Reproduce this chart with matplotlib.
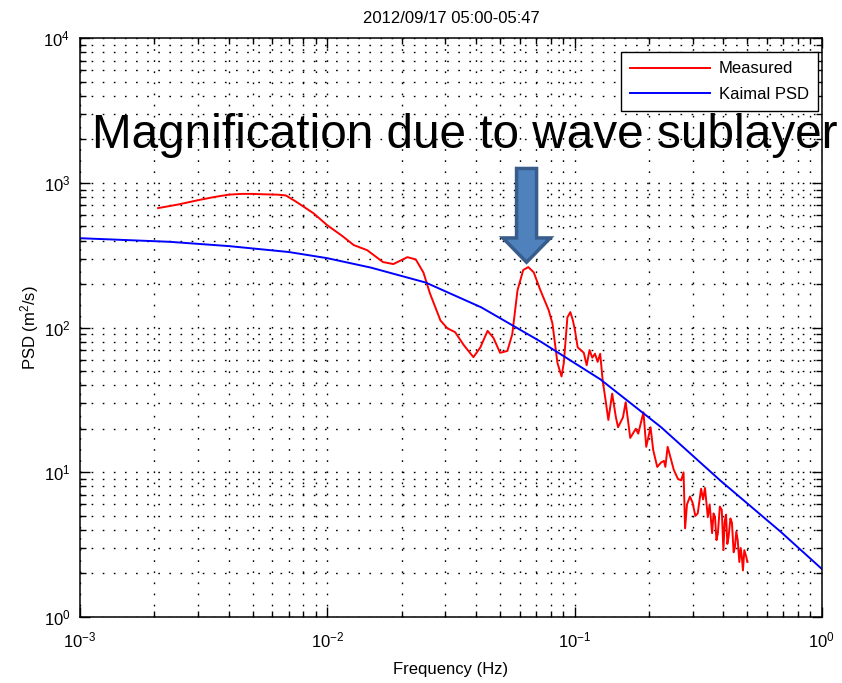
import matplotlib
matplotlib.use("Agg")
import matplotlib.pyplot as plt
from matplotlib.patches import FancyArrow

plt.rcParams['font.family'] = ['Liberation Sans', 'DejaVu Sans']
plt.rcParams['mathtext.default'] = 'regular'

# measured spectrum
freq_meas = [0.00207, 0.0025, 0.003, 0.0035, 0.004, 0.0045, 0.005, 0.0055, 0.0063, 0.0068,
             0.0075, 0.0088, 0.010, 0.0115, 0.0128, 0.0145, 0.0168, 0.0185, 0.0211, 0.0228,
             0.0245, 0.026, 0.0287, 0.0306, 0.0329, 0.0356, 0.039, 0.0416, 0.0445, 0.047,
             0.050, 0.0535, 0.056, 0.0588, 0.062, 0.065, 0.0684, 0.0728, 0.0786, 0.0814,
             0.0853, 0.0886, 0.0905, 0.0936, 0.0962, 0.0985, 0.1005, 0.103, 0.106, 0.109,
             0.112, 0.115, 0.118, 0.121, 0.124, 0.127, 0.130, 0.1335, 0.137, 0.142,
             0.147, 0.150, 0.157, 0.161, 0.168, 0.177, 0.181, 0.190, 0.195, 0.203,
             0.208, 0.216, 0.224, 0.230, 0.233, 0.238, 0.242, 0.252, 0.262, 0.270,
             0.276, 0.280, 0.285, 0.293, 0.300, 0.308, 0.315, 0.325, 0.331, 0.337,
             0.346, 0.352, 0.360, 0.365, 0.370, 0.375, 0.380, 0.387, 0.394, 0.400,
             0.405, 0.410, 0.415, 0.420, 0.427, 0.433, 0.440, 0.445, 0.451, 0.457,
             0.464, 0.470, 0.475, 0.480, 0.486, 0.495, 0.500]
psd_meas = [670, 710, 760, 800, 830, 840, 840, 835, 830, 820,
            740, 617, 510, 430, 372, 343, 284, 275, 307, 296,
            240, 173, 112, 99, 93, 76, 62.5, 73, 95, 85,
            67, 69, 90, 181, 250, 262, 241, 181, 132, 107,
            57, 46, 57, 118, 128, 112, 95, 73, 70, 67,
            55, 70, 62, 66, 58, 66, 43, 31.6, 23, 35,
            24, 20.5, 24, 30.5, 17.3, 20, 18.5, 26, 15, 20.5,
            14.3, 10.9, 11.7, 12, 10.9, 15, 13.5, 10.4, 9.0, 8.8,
            10.0, 4.1, 6.0, 6.8, 6.2, 5.0, 5.2, 7.7, 6.5, 7.8,
            4.9, 6.0, 3.8, 5.2, 4.9, 3.4, 3.8, 5.8, 5.5, 2.9,
            4.6, 5.1, 3.2, 3.6, 4.8, 4.5, 2.8, 3.0, 3.9, 3.4,
            2.4, 3.0, 2.6, 2.1, 2.9, 2.6, 2.4]

# Kaimal model spectrum
freq_kaimal = [0.001, 0.0023, 0.004, 0.007, 0.01, 0.015, 0.025, 0.042, 0.073, 0.127,
               0.224, 0.388, 0.68, 1.0]
psd_kaimal = [415, 392, 366, 333, 302, 260, 205, 138, 80, 44,
              20.5, 8.8, 3.9, 2.15]

fig = plt.figure(figsize=(8.42, 6.83), dpi=100)
ax = fig.add_axes([0.095, 0.0966, 0.881, 0.8474])

ax.loglog(freq_meas, psd_meas, color='#ff0000', lw=1.4, label='Measured')
ax.loglog(freq_kaimal, psd_kaimal, color='#0000ff', lw=1.4, label='Kaimal PSD')

ax.set_xlim(1e-3, 1)
ax.set_ylim(1, 1e4)
ax.grid(which='both', color='k', linestyle=(0, (1.2, 6.8)), linewidth=1.0)
ax.tick_params(which='both', direction='in', top=True, right=True, labelsize=12)
ax.tick_params(which='major', length=7, width=1)
ax.tick_params(which='minor', length=4, width=1)
ax.tick_params(axis='x', pad=10)
ax.tick_params(axis='y', pad=7)
for s in ax.spines.values():
    s.set_linewidth(1.1)

ax.set_title('2012/09/17 05:00-05:47', fontsize=12, pad=11)
ax.set_xlabel('Frequency (Hz)', fontsize=12, labelpad=8)
ax.set_ylabel('PSD (m$^2$/s)', fontsize=12, labelpad=2)

leg = ax.legend(loc='upper right', bbox_to_anchor=(0.9946, 0.9758), fontsize=12,
                fancybox=False, framealpha=1, edgecolor='k', borderaxespad=0,
                handlelength=4.8, labelspacing=0.65, borderpad=0.55, handletextpad=0.5)
leg.get_frame().set_linewidth(1.0)

# arrow pointing at the peak
arrow = FancyArrow(0.602, 0.775, 0, -0.162, width=0.027, head_width=0.064,
                   head_length=0.042, length_includes_head=True,
                   facecolor='#4f81bd', edgecolor='#385d8a', linewidth=2.5,
                   transform=ax.transAxes, zorder=5)
ax.add_patch(arrow)

fig.text(92 / 842, 1 - 148 / 683, 'Magnification due to wave sublayer',
         fontsize=34.4, ha='left', va='baseline', color='k', zorder=10)

fig.savefig('out.png', dpi=100)
